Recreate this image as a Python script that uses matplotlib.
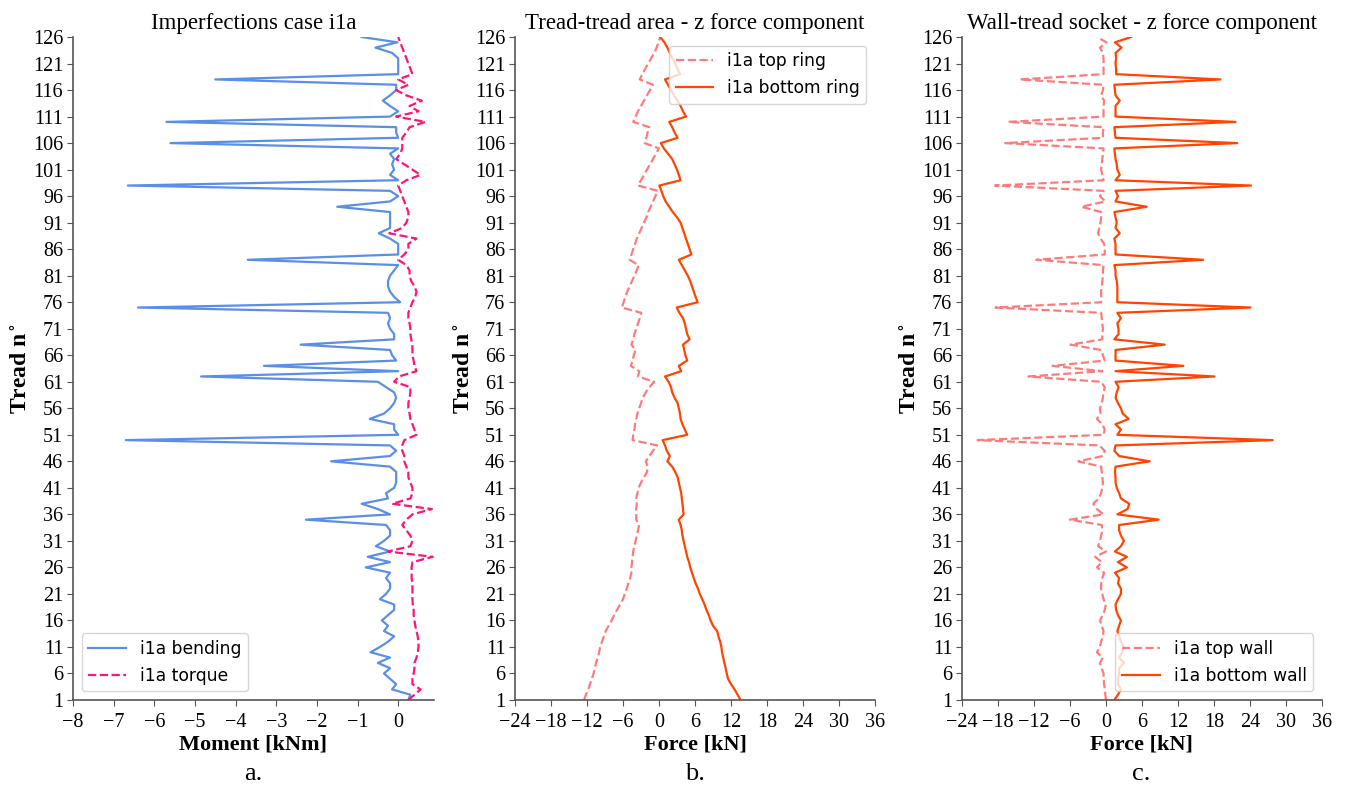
import numpy as np
import matplotlib
matplotlib.use('Agg')
import matplotlib.pyplot as plt

treads = np.arange(1, 127)

# panel a - moments [kNm], tread 1 -> 126
bending = [0.25, 0.3, -0.15, -0.05, -0.2, -0.35, -0.2, -0.5, -0.2, -0.68,
           -0.45, -0.25, -0.1, -0.35, -0.25, -0.4, -0.25, -0.1, -0.1, -0.45,
           -0.3, -0.2, -0.2, -0.3, -0.2, -0.8, -0.2, -0.75, -0.2, -0.55,
           -0.35, -0.2, -0.2, -0.3, -2.27, -0.2, -0.5, -0.9, -0.25, -0.3,
           -0.1, -0.05, -0.05, -0.05, -0.2, -1.65, -0.2, -0.05, -0.2, -6.7,
           0.0, -0.1, -0.1, -0.7, -0.35, -0.2, -0.1, -0.05, -0.1, -0.3,
           -0.5, -4.85, 0.0, -3.3, -0.05, -0.15, -0.2, -2.4, -0.1, -0.1,
           -0.2, -0.25, -0.2, -0.25, -6.4, 0.05, -0.1, -0.2, -0.25, -0.25,
           -0.2, -0.1, 0.0, -3.7, 0.0, 0.0, 0.0, -0.2, -0.48, -0.2,
           -0.2, -0.2, -0.2, -1.5, -0.2, 0.0, -0.2, -6.65, 0.0, -0.2,
           -0.1, -0.15, -0.1, -0.2, 0.0, -5.6, 0.0, -0.05, -0.05, -5.7,
           -0.2, 0.0, -0.2, -0.38, -0.2, -0.05, -0.05, -4.5, 0.0, 0.0,
           0.0, 0.0, -0.15, -0.56, -0.02, -0.9]
torque = [0.25, 0.4, 0.55, 0.35, 0.35, 0.38, 0.4, 0.4, 0.45, 0.48,
          0.5, 0.5, 0.48, 0.45, 0.42, 0.4, 0.38, 0.38, 0.36, 0.35,
          0.35, 0.35, 0.35, 0.33, 0.33, 0.33, 0.35, 0.85, -0.25, 0.3,
          0.35, 0.3, 0.2, 0.1, 0.2, 0.35, 0.83, -0.15, 0.3, 0.35,
          0.35, 0.3, 0.25, 0.25, 0.2, 0.15, 0.15, 0.1, 0.1, 0.15,
          0.45, 0.4, 0.35, 0.3, 0.28, 0.25, 0.25, 0.28, 0.3, 0.3,
          -0.1, 0.02, 0.45, 0.4, 0.38, 0.35, 0.35, 0.35, 0.32, 0.3,
          0.3, 0.28, 0.25, 0.25, 0.3, 0.35, 0.42, 0.45, 0.4, 0.32,
          0.28, 0.28, 0.2, 0.0, 0.15, 0.25, 0.25, 0.45, -0.22, 0.1,
          0.2, 0.25, 0.25, 0.2, 0.15, 0.1, 0.05, 0.0, 0.2, 0.55,
          0.35, 0.15, -0.05, 0.05, 0.1, 0.1, 0.1, 0.2, 0.28, 0.67,
          -0.05, 0.5, 0.28, 0.58, 0.2, -0.05, 0.25, 0.0, 0.35, 0.3,
          0.25, 0.2, 0.15, 0.1, 0.05, 0.0]

# panel b - tread-tread area z force [kN], tread 1 -> 126
top_ring = [-12.5, -12.2, -11.8, -11.5, -11.2, -10.9, -10.7, -10.5, -10.2, -10.0,
            -9.8, -9.5, -9.2, -8.9, -8.4, -7.9, -7.5, -7.0, -6.5, -6.0,
            -5.7, -5.4, -5.1, -4.8, -4.6, -4.6, -4.5, -4.4, -4.3, -4.1,
            -3.9, -3.7, -3.5, -3.3, -3.8, -3.8, -3.8, -3.7, -3.8, -3.6,
            -3.4, -3.0, -2.5, -2.0, -1.9, -2.2, -1.6, -1.0, -0.3, -4.4,
            -4.3, -4.1, -4.0, -3.8, -3.6, -3.3, -3.0, -2.7, -2.2, -1.6,
            -0.8, -3.5, -3.3, -4.7, -4.4, -4.2, -3.9, -4.6, -4.3, -4.1,
            -3.8, -3.5, -3.2, -2.95, -6.2, -5.9, -5.6, -5.3, -4.9, -4.5,
            -4.1, -3.7, -3.4, -4.9, -4.6, -4.3, -4.0, -3.7, -3.3, -2.9,
            -2.5, -2.1, -1.8, -1.4, -1.0, -0.6, -0.2, -3.5, -3.0, -2.5,
            -2.0, -1.5, -1.0, -0.5, 0.0, -2.4, -2.1, -1.9, -1.6, -4.3,
            -3.9, -3.5, -3.0, -2.5, -2.0, -1.5, -1.0, -3.2, -2.8, -2.3,
            -1.8, -1.3, -0.8, -0.4, -0.1, 0.2]
bottom_ring = [13.6, 13.1, 12.6, 12.0, 11.5, 11.3, 11.1, 10.9, 10.7, 10.5,
               10.4, 10.2, 9.9, 9.7, 9.0, 8.6, 8.3, 7.9, 7.6, 7.2,
               6.8, 6.5, 6.1, 5.8, 5.5, 5.2, 5.0, 4.7, 4.5, 4.3,
               4.1, 3.9, 3.8, 3.6, 3.3, 4.1, 4.0, 3.9, 3.8, 3.7,
               3.5, 3.3, 3.1, 2.7, 2.2, 1.4, 1.8, 1.3, 1.0, 0.6,
               4.7, 4.3, 3.9, 3.6, 3.5, 3.3, 3.1, 2.6, 2.2, 2.0,
               1.6, 1.0, 3.7, 3.3, 4.7, 4.4, 4.2, 4.0, 5.1, 4.7,
               4.5, 4.3, 4.0, 3.4, 2.95, 6.45, 6.1, 5.8, 5.5, 5.2,
               4.8, 4.3, 3.8, 3.3, 5.4, 5.1, 4.8, 4.5, 4.2, 3.9,
               3.6, 3.0, 2.3, 1.7, 1.1, 0.7, 0.4, 0.05, 3.6, 3.3,
               3.0, 2.6, 2.2, 1.5, 0.8, 0.3, 3.1, 2.6, 2.2, 1.7,
               4.5, 4.0, 3.6, 3.1, 2.5, 2.0, 1.5, 1.0, 3.5, 3.1,
               2.7, 2.2, 1.8, 1.4, 0.9, 0.2]

# panel c - wall-tread socket z force [kN], tread 1 -> 126
top_wall = [0.0, -0.1, -0.2, -0.3, -0.4, -0.4, -0.7, -1.0, -0.5, -1.5,
            -1.0, -0.8, -0.5, -0.4, -0.7, -1.0, -0.5, -0.2, 0.0, -0.4,
            -0.6, -0.8, -0.8, -0.6, -0.3, -1.5, -0.7, -1.8, 0.0, -1.3,
            -1.0, -0.8, -0.6, -0.7, -6.0, -0.4, -1.5, -2.1, -1.2, -0.8,
            -0.6, -0.5, -0.6, -0.7, -0.8, -4.6, -0.5, -0.2, -1.1, -21.4,
            -0.4, -0.2, -0.6, -1.5, -0.9, -1.0, -0.7, -0.5, -0.4, -0.2,
            -0.8, -12.9, -0.6, -8.9, -0.2, -0.5, -0.8, -5.9, -0.6, -0.6,
            -0.5, -0.6, -0.7, -0.8, -18.4, -0.8, -0.8, -0.8, -0.7, -0.6,
            -0.5, -0.5, -0.4, -11.6, -0.2, -0.2, -0.3, -0.9, -1.3, -1.1,
            -0.9, -0.8, -0.8, -4.1, -0.1, -1.0, -0.4, -18.5, -0.4, -0.6,
            -0.8, -0.7, -0.6, -0.5, -0.4, -16.8, -0.5, -0.5, -0.4, -16.3,
            -0.4, -0.4, -0.4, -0.3, -0.8, -0.5, -0.4, -14.3, -0.4, -0.4,
            -0.4, -0.4, -0.5, -1.0, 0.1, -1.5]
bottom_wall = [1.4, 2.0, 2.5, 2.0, 2.0, 2.2, 2.2, 3.0, 2.2, 2.7,
               3.0, 2.5, 2.2, 1.9, 2.2, 2.5, 2.0, 1.7, 1.6, 2.0,
               2.5, 2.5, 2.0, 2.2, 1.5, 3.5, 2.0, 3.5, 1.5, 2.5,
               3.0, 2.5, 2.2, 2.2, 8.8, 1.9, 3.6, 3.9, 2.5, 2.2,
               1.8, 1.6, 1.6, 1.5, 1.6, 7.3, 2.2, 1.4, 1.6, 27.8,
               1.9, 2.5, 1.6, 3.8, 2.8, 2.5, 2.0, 1.6, 1.8, 2.1,
               1.6, 18.1, 1.6, 12.9, 1.6, 1.6, 1.6, 9.8, 1.4, 2.1,
               2.1, 1.9, 2.5, 1.9, 24.1, 1.9, 1.9, 1.9, 1.9, 1.8,
               1.6, 1.6, 1.4, 16.2, 1.6, 1.6, 1.6, 1.4, 2.3, 1.6,
               1.8, 1.6, 1.4, 6.8, 1.6, 2.0, 1.6, 24.2, 1.6, 2.3,
               1.9, 1.8, 1.6, 1.5, 1.4, 21.9, 1.6, 1.5, 1.4, 21.6,
               1.6, 1.6, 1.6, 2.3, 1.6, 1.5, 1.4, 19.1, 1.7, 1.7,
               1.6, 1.7, 1.6, 2.6, 1.5, 4.2]

yticks = list(range(1, 127, 5))

plt.rcParams['font.family'] = ['Liberation Serif', 'DejaVu Serif']
plt.rcParams['mathtext.fontset'] = 'stix'

fig = plt.figure(figsize=(13.49, 7.86), dpi=100)
ax1 = fig.add_axes([0.0541, 0.1094, 0.2676, 0.8435])
ax2 = fig.add_axes([0.3818, 0.1094, 0.2668, 0.8435])
ax3 = fig.add_axes([0.7131, 0.1094, 0.2668, 0.8435])

ax1.plot(bending, treads, color='#5b8fe6', lw=1.6, label='i1a bending')
ax1.plot(torque, treads, color='#ff1477', lw=1.6, ls='--', label='i1a torque')
ax1.set_xlim(-8, 0.88)
ax1.set_xticks(range(-8, 1))
ax1.set_xticklabels(['\u22128', '\u22127', '\u22126', '\u22125', '\u22124', '\u22123', '\u22122', '\u22121', '0'])
ax1.set_title('Imperfections case i1a', fontsize=16.5)
ax1.set_xlabel('Moment [kNm]', fontsize=16, fontweight='bold', labelpad=2)

ax2.plot(top_ring, treads, color='#ff7b7b', lw=1.6, ls='--', label='i1a top ring')
ax2.plot(bottom_ring, treads, color='#ff4500', lw=1.6, label='i1a bottom ring')
ax2.set_title('Tread-tread area - z force component', fontsize=16.5)
ax2.set_xlabel('Force [kN]', fontsize=16, fontweight='bold', labelpad=2)

ax3.plot(top_wall, treads, color='#ff7b7b', lw=1.6, ls='--', label='i1a top wall')
ax3.plot(bottom_wall, treads, color='#ff4500', lw=1.6, label='i1a bottom wall')
ax3.set_title('Wall-tread socket - z force component', fontsize=16.5)
ax3.set_xlabel('Force [kN]', fontsize=16, fontweight='bold', labelpad=2)

force_ticks = list(range(-24, 37, 6))
for ax in (ax2, ax3):
    ax.set_xlim(-24, 36)
    ax.set_xticks(force_ticks)
    ax.set_xticklabels([str(t).replace('-', '\u2212') for t in force_ticks])

for ax in (ax1, ax2, ax3):
    ax.set_ylim(1, 126)
    ax.set_yticks(yticks)
    ax.set_ylabel('Tread n$^\\circ$', fontsize=17, fontweight='bold', labelpad=1)
    ax.tick_params(labelsize=14.5, color='#555555', length=4)
    ax.tick_params(axis='y', pad=3)
    ax.tick_params(axis='x', pad=5)
    ax.spines['top'].set_visible(False)
    ax.spines['right'].set_visible(False)
    ax.spines['left'].set_color('#555555')
    ax.spines['bottom'].set_color('#555555')
    ax.spines['left'].set_linewidth(1.2)
    ax.spines['bottom'].set_linewidth(1.2)

leg_font = {'family': 'DejaVu Sans', 'size': 12.3}
ax1.legend(loc='lower left', prop=leg_font, handlelength=2.2)
ax2.legend(loc='upper right', prop=leg_font, handlelength=2.2)
ax3.legend(loc='lower right', prop=leg_font, handlelength=2.2)

for x, lab in [(0.188, 'a.'), (0.515, 'b.'), (0.846, 'c.')]:
    fig.text(x, 0.008, lab, fontsize=19, ha='center')

fig.savefig('out.png', dpi=100)
